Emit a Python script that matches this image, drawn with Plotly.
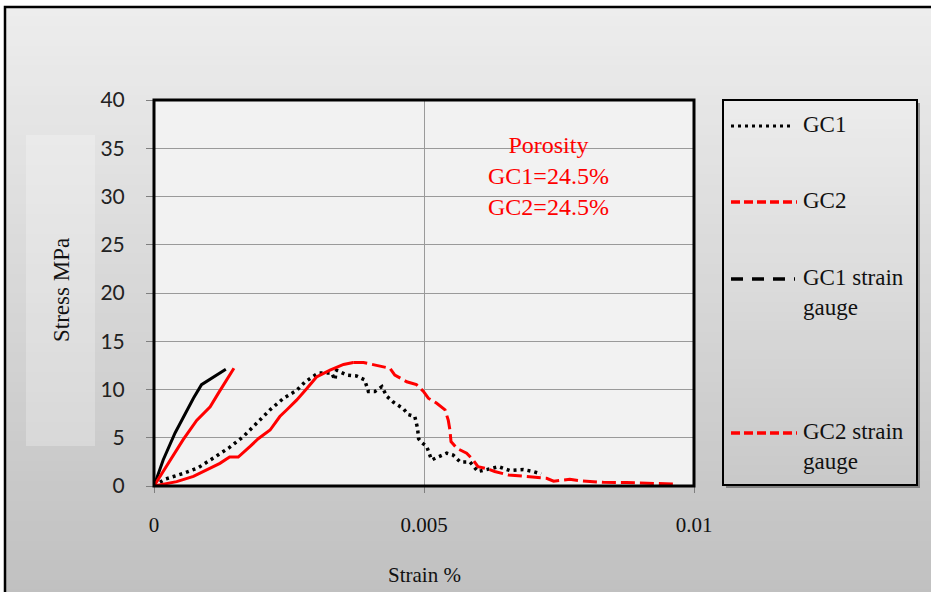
import plotly.graph_objects as go

# ---------------- data ----------------
gc1_x = [0, 0.0002, 0.00054, 0.00082, 0.0011, 0.0014, 0.00165, 0.0019, 0.00215, 0.0024,
         0.00264, 0.0028, 0.00304, 0.00329, 0.00335, 0.00338, 0.00357, 0.00375, 0.0039,
         0.00397, 0.00409, 0.00422, 0.00431, 0.00443, 0.00462, 0.00471, 0.00483, 0.00488,
         0.0049, 0.00496, 0.00505, 0.00514, 0.00527, 0.00542, 0.00554, 0.00567, 0.00585,
         0.006, 0.00616, 0.00638, 0.00659, 0.00684, 0.00702, 0.00717]
gc1_y = [0, 0.7, 1.3, 1.9, 2.9, 4.0, 5.1, 6.5, 7.9, 9.1,
         9.9, 10.8, 11.7, 11.7, 11.0, 12.0, 11.5, 11.4, 11.0,
         9.8, 9.8, 10.3, 9.3, 8.7, 8.0, 7.4, 7.2, 6.0,
         4.9, 4.5, 4.1, 2.7, 3.0, 3.4, 3.2, 2.5, 2.5,
         1.5, 1.7, 2.0, 1.6, 1.7, 1.5, 1.25]

gc2_x = [0, 0.00042, 0.00073, 0.00098, 0.00122, 0.0014, 0.00156, 0.00178, 0.00193, 0.00215,
         0.00233, 0.00246, 0.00264, 0.00283, 0.00301, 0.00326, 0.00351, 0.00369, 0.00388,
         0.00412, 0.00437, 0.00446, 0.00468, 0.00486, 0.00499, 0.00508, 0.00523, 0.00539,
         0.00545, 0.00548, 0.0055, 0.00561, 0.00579, 0.00591, 0.006, 0.00616, 0.00631,
         0.00656, 0.0069, 0.00727, 0.0074, 0.0077, 0.00789, 0.00832, 0.00875, 0.00912, 0.00967]
gc2_y = [0, 0.45, 1.0, 1.7, 2.35, 3.0, 3.0, 4.1, 4.9, 5.8,
         7.2, 7.9, 8.9, 10.1, 11.3, 12.0, 12.6, 12.8, 12.8,
         12.5, 12.2, 11.5, 10.8, 10.5, 9.8, 9.1, 8.6, 7.9,
         6.8, 5.8, 4.6, 3.9, 3.4, 2.7, 2.0, 1.8, 1.5,
         1.15, 0.95, 0.8, 0.5, 0.7, 0.55, 0.38, 0.35, 0.28, 0.2]

gc1_sg_x = [0, 0.00017, 0.00039, 0.0006, 0.00073, 0.00088, 0.00107, 0.00122, 0.00133]
gc1_sg_y = [0, 2.7, 5.5, 7.7, 9.1, 10.5, 11.2, 11.7, 12.1]

gc2_sg_x = [0, 0.0003, 0.00054, 0.00079, 0.00104, 0.00119, 0.00135, 0.00148]
gc2_sg_y = [0, 2.7, 4.8, 6.8, 8.2, 9.6, 11.0, 12.2]

x_ticks = [0, 0.005, 0.01]
x_tick_labels = ["0", "0.005", "0.01"]
y_ticks = [0, 5, 10, 15, 20, 25, 30, 35, 40]

legend_names = ["GC1", "GC2", "GC1 strain<br>gauge", "GC2 strain<br>gauge"]
porosity_text = "Porosity<br>GC1=24.5%<br>GC2=24.5%"

# ---------------- layout geometry ----------------
W, H = 931, 592
L, R, T, B = 154, 694, 100, 486


def X(px):
    return (px - L) / (R - L)


def Y(py):
    return (B - py) / (B - T)


RED = "#ff0000"
SERIF = "Liberation Serif, Times New Roman, serif"

fig = go.Figure()

# GC1 (dotted black)
fig.add_trace(go.Scatter(x=gc1_x, y=gc1_y, mode="lines", showlegend=False,
                         line=dict(color="black", width=3.5, dash="3px,4px")))
# GC2 (red: dense rising part looks solid, rest dashed)
peak = gc2_y.index(max(gc2_y))
fig.add_trace(go.Scatter(x=gc2_x[:peak + 1], y=gc2_y[:peak + 1], mode="lines", showlegend=False,
                         line=dict(color=RED, width=3)))
fig.add_trace(go.Scatter(x=gc2_x[peak:], y=gc2_y[peak:], mode="lines", showlegend=False,
                         line=dict(color=RED, width=3, dash="14px,5px")))
# strain gauges
fig.add_trace(go.Scatter(x=gc1_sg_x, y=gc1_sg_y, mode="lines", showlegend=False,
                         line=dict(color="black", width=3)))
fig.add_trace(go.Scatter(x=gc2_sg_x, y=gc2_sg_y, mode="lines", showlegend=False,
                         line=dict(color=RED, width=3)))

shapes = []


def band_gradient(x0, x1, y0, y1, c0, c1, n):
    h = (y1 - y0) / n
    for i in range(n):
        t = i / (n - 1)
        c = round(c0 + (c1 - c0) * t)
        shapes.append(dict(type="rect", xref="paper", yref="paper", layer="below",
                           x0=X(x0), x1=X(x1), y0=Y(y0 + i * h - 0.5), y1=Y(y0 + (i + 1) * h + 0.5),
                           fillcolor=f"rgb({c},{c},{c})", line=dict(width=0)))


# page background gradient
band_gradient(5, 940, 7, 600, 237, 192, 60)
# light box behind the y title
shapes.append(dict(type="rect", xref="paper", yref="paper", layer="below",
                   x0=X(26), x1=X(95), y0=Y(446), y1=Y(135),
                   fillcolor="rgba(255,255,255,0.25)", line=dict(width=0)))
# plot area
shapes.append(dict(type="rect", xref="paper", yref="paper", layer="below",
                   x0=0, x1=1, y0=0, y1=1, fillcolor="#f2f2f2", line=dict(width=0)))
# legend shadow + gradient
shapes.append(dict(type="rect", xref="paper", yref="paper", layer="below",
                   x0=X(726), x1=X(920), y0=Y(488), y1=Y(103),
                   fillcolor="rgba(0,0,0,0.35)", line=dict(width=0)))
band_gradient(723, 917, 100, 485, 236, 201, 40)
shapes.append(dict(type="rect", xref="paper", yref="paper", layer="above",
                   x0=X(723), x1=X(917), y0=Y(485), y1=Y(100),
                   fillcolor="rgba(0,0,0,0)", line=dict(color="black", width=2)))
# outer frame
shapes.append(dict(type="rect", xref="paper", yref="paper", layer="above",
                   x0=X(5), x1=X(945), y0=Y(605), y1=Y(7),
                   fillcolor="rgba(0,0,0,0)", line=dict(color="black", width=2.5)))
# plot border
shapes.append(dict(type="rect", xref="paper", yref="paper", layer="above",
                   x0=0, x1=1, y0=0, y1=1,
                   fillcolor="rgba(0,0,0,0)", line=dict(color="black", width=3)))

# legend samples
legend_rows = [126, 202, 279, 433]
legend_styles = [dict(color="black", width=3, dash="3px,4px"),
                 dict(color=RED, width=3.5, dash="9px,4px"),
                 dict(color="black", width=3.5, dash="12px,9px"),
                 dict(color=RED, width=3.5, dash="9px,4px")]
legend_ends = [791, 797, 795, 797]
annotations = []
for yy, st, xe, name in zip(legend_rows, legend_styles, legend_ends, legend_names):
    shapes.append(dict(type="line", xref="paper", yref="paper", layer="above",
                       x0=X(731), x1=X(xe), y0=Y(yy), y1=Y(yy), line=st))
    annotations.append(dict(xref="paper", yref="paper", x=X(801), y=Y(yy - 16),
                            xanchor="left", yanchor="top", align="left", showarrow=False,
                            text=name, font=dict(family=SERIF, size=23, color="#111")))

# axis titles
annotations.append(dict(xref="paper", yref="paper", x=X(61), y=Y(290), textangle=-90,
                        xanchor="center", yanchor="middle",
                        showarrow=False, text="Stress MPa",
                        font=dict(family=SERIF, size=23, color="#111")))
annotations.append(dict(xref="paper", yref="paper", x=X(424), y=Y(575),
                        xanchor="center", yanchor="middle",
                        showarrow=False, text="Strain %",
                        font=dict(family=SERIF, size=21, color="#111")))
# porosity note
annotations.append(dict(xref="paper", yref="paper", x=X(548), y=Y(176),
                        xanchor="center", yanchor="middle",
                        showarrow=False, text=porosity_text, align="center",
                        font=dict(family=SERIF, size=24, color=RED)))

fig.update_layout(
    width=W, height=H,
    margin=dict(l=L, r=W - R, t=T, b=H - B),
    paper_bgcolor="white",
    plot_bgcolor="rgba(0,0,0,0)",
    showlegend=False,
    shapes=shapes,
    annotations=annotations,
    xaxis=dict(range=[0, 0.01], tickvals=x_ticks, ticktext=x_tick_labels,
               showgrid=True, gridcolor="#9a9a9a", gridwidth=1, zeroline=False,
               ticks="outside", ticklen=6, tickcolor="#7f7f7f", showline=False,
               ticklabelstandoff=14,
               tickfont=dict(family=SERIF, size=21, color="#111")),
    yaxis=dict(range=[0, 40], tickvals=y_ticks,
               showgrid=True, gridcolor="#9a9a9a", gridwidth=1, zeroline=False,
               ticks="outside", ticklen=7, tickcolor="#7f7f7f", showline=False,
               ticklabelstandoff=17,
               tickfont=dict(family="Lato, Open Sans, sans-serif", size=21, color="#222")),
)

fig.write_html("out.html")
